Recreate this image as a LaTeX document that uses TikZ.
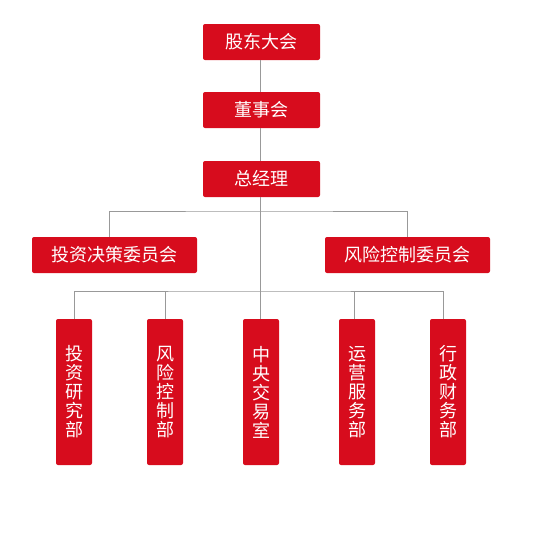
\documentclass[tikz,border=0pt]{standalone}
\usepackage{fontspec}
\newfontfamily\cjk{Noto Sans CJK SC}
\definecolor{boxred}{HTML}{D70C1D}
\definecolor{linegray}{HTML}{999999}
\begin{document}
\begin{tikzpicture}[x=1pt,y=-1pt,
  hbox/.style={fill=boxred,text=white,rounded corners=2pt,inner sep=0pt,font=\cjk\fontsize{18}{20}\selectfont,
    drop shadow/.style={}},
  topbox/.style={hbox,minimum width=117pt,minimum height=36pt},
  combox/.style={hbox,minimum width=165pt,minimum height=36pt},
  deptbox/.style={hbox,minimum width=36pt,minimum height=146pt,align=center,font=\cjk\fontsize{18}{19}\selectfont},
  conn/.style={draw=linegray,line width=0.8pt}]
\useasboundingbox (0,0) rectangle (538,539);
\node[topbox] (gd) at (261.5,42) {股东大会};
\node[topbox] (ds) at (261.5,110) {董事会};
\node[topbox] (zjl) at (261.5,179) {总经理};
\node[combox] (tz) at (114.5,255) {投资决策委员会};
\node[combox] (fk) at (407.5,255) {风险控制委员会};
\node[deptbox] (d1) at (74,392) {投\\资\\研\\究\\部};
\node[deptbox] (d2) at (165,392) {风\\险\\控\\制\\部};
\node[deptbox] (d3) at (261,392) {中\\央\\交\\易\\室};
\node[deptbox] (d4) at (357,392) {运\\营\\服\\务\\部};
\node[deptbox] (d5) at (448,392) {行\\政\\财\\务\\部};
\coordinate (c1) at (260,211);
\coordinate (c2) at (260,291);
\draw[conn] (gd.south -| c1) -- (ds.north -| c1);
\draw[conn] (ds.south -| c1) -- (zjl.north -| c1);
\draw[conn] (zjl.south -| c1) -- (c2);
\draw[conn] (tz.north -| 109,0) |- (c1) -| (fk.north);
\draw[conn] (d1.north) |- (c2) -| (d5.north -| 443,0);
\draw[conn] (d2.north) -- (d2.north |- c2);
\draw[conn] (c2) -- (d3.north -| c2);
\draw[conn] (d4.north -| 354,0) -- (c2 -| 354,0);
\end{tikzpicture}
\end{document}
